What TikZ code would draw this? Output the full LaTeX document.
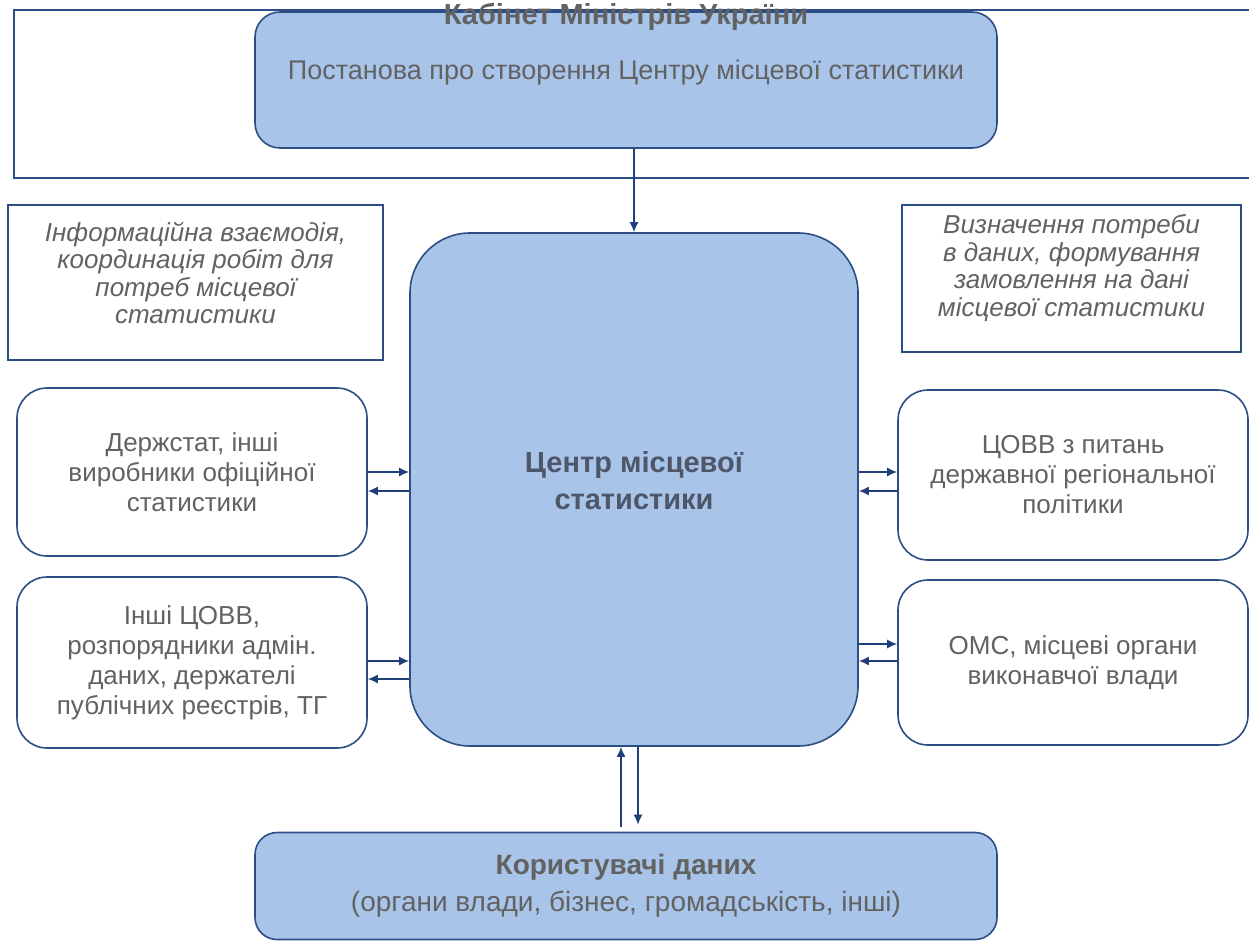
\documentclass[tikz,border=0pt]{standalone}
\usepackage{fontspec}
\setmainfont{Liberation Sans}
\usepackage{tikz}
\usetikzlibrary{arrows.meta}
\definecolor{boxblue}{HTML}{A8C4E9}
\definecolor{lineblue}{HTML}{2D4E85}
\definecolor{arrowblue}{HTML}{1F3F7A}
\definecolor{txtgray}{HTML}{626262}
\definecolor{ctrgray}{HTML}{4E5668}

\begin{document}
\begin{tikzpicture}[x=1pt,y=-1pt,
    txt/.style={text=txtgray,font=\fontsize{26}{30}\selectfont,align=center,inner sep=0pt},
    itxt/.style={text=txtgray,font=\fontsize{26}{27.5}\selectfont\itshape,align=center,inner sep=0pt},
    bluebox/.style={draw=lineblue,line width=1.6pt,fill=boxblue,rounded corners=#1,inner sep=0pt},
    sidebox/.style={draw=lineblue,line width=1.6pt,fill=white,rounded corners=30pt,
        minimum width=350pt,inner sep=0pt,txt},
    notebox/.style={draw=lineblue,line width=1.4pt,inner sep=0pt},
    arr/.style={draw=arrowblue,line width=1.5pt,-{Latex[length=10pt,width=9pt]}}]
            \useasboundingbox (0,0) rectangle (1249,941);
            % Cabinet of Ministers
            \draw[notebox] (14,10) rectangle (1262,178);
            \node[bluebox=25pt,minimum width=742pt,minimum height=136pt] (kmu) at (626,80) {};
            \node[txt,font=\fontsize{29}{30}\selectfont\bfseries] (kmutitle) at (626,17) {Кабінет Міністрів України};
            \node[txt,font=\fontsize{27}{30}\selectfont] (kmudoc) at (626,73) {Постанова про створення Центру місцевої статистики};
            % notes
            \node[notebox,minimum width=375pt,minimum height=155pt] (noteleft) at (195.5,282.5) {};
            \node[itxt] (noteleftt) at (195.5,273) {Інформаційна взаємодія,\\координація робіт для\\потреб місцевої\\статистики};
            \node[notebox,minimum width=339pt,minimum height=147pt] (noteright) at (1071.5,278.5) {};
            \node[itxt] (noterightt) at (1071.5,268) {Визначення потреби\\в даних, формування\\замовлення на дані\\місцевої статистики};
            % centre
            \node[bluebox=60pt,minimum width=448pt,minimum height=513pt] (ctr) at (634,489.5) {};
            \node[txt,text=ctrgray,font=\fontsize{29}{37}\selectfont\bfseries] (ctrt) at (634,481) {Центр місцевої\\статистики};
            % partners
            \node[sidebox,minimum height=168pt] (left1) at (192,472) {Держстат, інші\\виробники офіційної\\статистики};
            \node[sidebox,minimum height=171pt] (left2) at (192,662.5) {Інші ЦОВВ,\\розпорядники адмін.\\даних, держателі\\публічних реєстрів, ТГ};
            \node[sidebox,minimum height=170pt] (right1) at (1073,475) {ЦОВВ з питань\\державної регіональної\\політики};
            \node[sidebox,minimum height=165pt] (right2) at (1073,662.5) {ОМС, місцеві органи\\виконавчої влади};
            % users
            \node[bluebox=22pt,minimum width=742pt,minimum height=107pt,txt,font=\fontsize{28}{37}\selectfont] (users) at (626,886)
                {\textbf{Користувачі даних}\\(органи влади, бізнес, громадськість, інші)};
            % links
            \draw[arr] (ctr.north |- kmu.south) -- (ctr.north);
            \draw[arr] (left1.east) -- (left1.east -| ctr.west);
            \draw[arr] ([yshift=-19pt]left1.east -| ctr.west) -- ([yshift=-19pt]left1.east);
            \draw[arr] ([yshift=1.5pt]left2.east) -- ([yshift=1.5pt]left2.east -| ctr.west);
            \draw[arr] ([yshift=-16.5pt]left2.east -| ctr.west) -- ([yshift=-16.5pt]left2.east);
            \draw[arr] ([yshift=3pt]right1.west -| ctr.east) -- ([yshift=3pt]right1.west);
            \draw[arr] ([yshift=-16pt]right1.west) -- ([yshift=-16pt]right1.west -| ctr.east);
            \draw[arr] ([yshift=18.5pt]right2.west -| ctr.east) -- ([yshift=18.5pt]right2.west);
            \draw[arr] ([yshift=1.5pt]right2.west) -- ([yshift=1.5pt]right2.west -| ctr.east);
            \draw[arr,shorten <=5pt] ([xshift=-13pt]ctr.south |- users.north) -- ([xshift=-13pt]ctr.south);
            \draw[arr,shorten >=7pt] ([xshift=4pt]ctr.south) -- ([xshift=4pt]ctr.south |- users.north);
        \end{tikzpicture}
\end{document}
